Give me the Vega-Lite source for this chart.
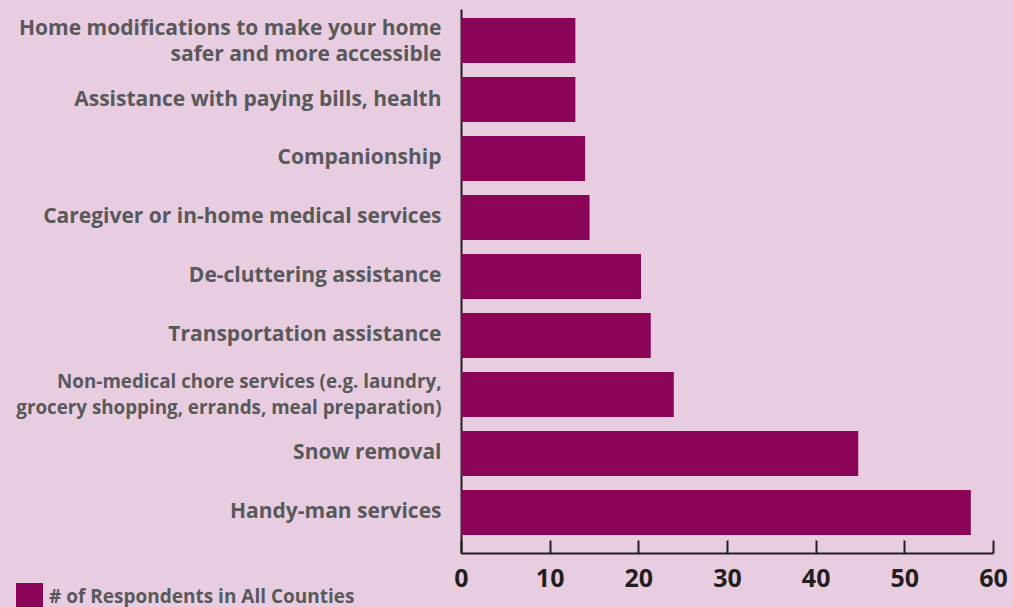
{
  "$schema": "https://vega.github.io/schema/vega-lite/v6.json",
  "width": 532,
  "height": 544,
  "autosize": {"type": "none"},
  "padding": {"left": 461, "top": 9, "right": 20, "bottom": 54},
  "background": "#e8cde0",
  "config": {
    "view": {"stroke": null},
    "font": "Open Sans"
  },
  "data": {
    "values": [
      {"service": "Home modifications to make your home|safer and more accessible", "value": 12.9, "series": "# of Respondents in All Counties"},
      {"service": "Assistance with paying bills, health", "value": 12.9, "series": "# of Respondents in All Counties"},
      {"service": "Companionship", "value": 14.0, "series": "# of Respondents in All Counties"},
      {"service": "Caregiver or in-home medical services", "value": 14.5, "series": "# of Respondents in All Counties"},
      {"service": "De-cluttering assistance", "value": 20.3, "series": "# of Respondents in All Counties"},
      {"service": "Transportation assistance", "value": 21.4, "series": "# of Respondents in All Counties"},
      {"service": "Non-medical chore services (e.g. laundry,|grocery shopping, errands, meal preparation)", "value": 24.0, "series": "# of Respondents in All Counties"},
      {"service": "Snow removal", "value": 44.8, "series": "# of Respondents in All Counties"},
      {"service": "Handy-man services", "value": 57.5, "series": "# of Respondents in All Counties"}
    ]
  },
  "mark": {"type": "bar"},
  "encoding": {
    "y": {
      "field": "service",
      "type": "nominal",
      "sort": null,
      "scale": {"paddingInner": 0.237, "paddingOuter": 0.229, "align": 0.333},
      "axis": {
        "title": null,
        "ticks": false,
        "labelExpr": "split(datum.label, '|')",
        "labelLimit": 500,
        "labelPadding": 20,
        "labelFont": "Open Sans",
        "labelFontWeight": "bold",
        "labelFontSize": {"condition": {"test": "indexof(datum.value, 'Non-medical') == 0", "value": 18.8}, "value": 21},
        "labelOffset": {"condition": {"test": "indexof(datum.value, '|') >= 0", "value": -12}, "value": 0},
        "labelColor": "#58595b",
        "labelLineHeight": 26,
        "domainColor": "#231f20",
        "domainWidth": 2,
        "grid": false
      }
    },
    "x": {
      "field": "value",
      "type": "quantitative",
      "scale": {"domain": [0, 60], "nice": false},
      "axis": {
        "title": null,
        "values": [0, 10, 20, 30, 40, 50, 60],
        "grid": false,
        "tickSize": -13,
        "tickWidth": 2,
        "tickColor": "#231f20",
        "domainColor": "#231f20",
        "domainWidth": 2,
        "labelPadding": 26,
        "labelFont": "Open Sans",
        "labelFontWeight": "bold",
        "labelFontSize": 25,
        "labelColor": "#231f20",
        "labelFlush": false
      }
    },
    "color": {
      "field": "series",
      "type": "nominal",
      "scale": {"range": ["#8a0558"]},
      "legend": {
        "title": null,
        "orient": "none",
        "legendX": -445,
        "legendY": 574,
        "padding": 0,
        "symbolType": "square",
        "symbolSize": 729,
        "symbolStrokeWidth": 0,
        "symbolOpacity": 1,
        "labelFont": "Open Sans",
        "labelFontWeight": "bold",
        "labelFontSize": 19,
        "labelColor": "#58595b",
        "labelOffset": 6,
        "labelLimit": 500
      }
    }
  }
}
